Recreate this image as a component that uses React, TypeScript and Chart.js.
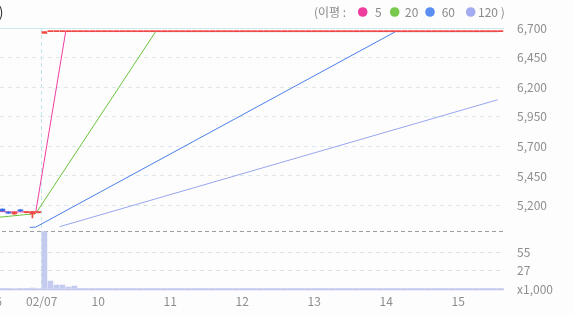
import React, { useEffect, useRef } from "react";
import { Chart, registerables } from "chart.js";

Chart.register(...registerables);

const FONT = "'Noto Sans CJK KR', 'Noto Sans', sans-serif";

// 30-minute bars; the first entry of each per-bar array is bar -1
const FIRST_BAR = -1;

// OHLC up to and including the gap-up bar; later bars are locked (O = H = L = C)
const opens = [5150, 5170, 5145, 5130, 5165, 5140, 5130, 5140, 6655];
const highs = [5165, 5172, 5148, 5148, 5168, 5148, 5152, 5148, 6670];
const lows = [5145, 5152, 5132, 5125, 5150, 5138, 5095, 5138, 6655];
const closes = [
  5160, 5155, 5135, 5145, 5155, 5145, 5150, 5145, 6670,
  6670, 6670, 6670, 6670, 6670, 6670, 6670, 6670, 6670, 6670, 6670, 6670, 6670, 6670, 6670, 6670, 6670, 6670, 6670,
  6670, 6670, 6670, 6670, 6670, 6670, 6670, 6670, 6670, 6670, 6670, 6670, 6670, 6670, 6670, 6670, 6670, 6670, 6670,
  6670, 6670, 6670, 6670, 6670, 6670, 6670, 6670, 6670, 6670, 6670, 6670, 6670, 6670, 6670, 6670, 6670, 6670, 6670,
  6670, 6670, 6670, 6670, 6670, 6670, 6670, 6670, 6670, 6670, 6670, 6670, 6670, 6670, 6670, 6670, 6670, 6670, 6670,
];

// volume per bar, thousands of shares
const volumes = [
  0.6, 0.9, 0.5, 0.7, 0.4, 0.6, 1.2, 0.8, 85.5, 12, 6, 6, 3, 4.5,
  0.6, 0.5, 0.4, 0.6, 0.5, 0.4, 0.5, 0.6, 0.4, 0.5, 0.5, 0.4, 0.6, 0.5, 0.4, 0.5, 0.6, 0.4,
  0.5, 0.5, 0.4, 0.6, 0.5, 0.4, 0.5, 0.6, 0.4, 0.5, 0.5, 0.4, 0.6, 0.5, 0.4, 0.5, 0.6, 0.4,
  0.5, 0.5, 0.4, 0.6, 0.5, 0.4, 0.5, 0.6, 0.4, 0.5, 0.5, 0.4, 0.6, 0.5, 0.4, 0.5, 0.6, 0.4,
  0.5, 0.5, 0.4, 0.6, 0.5, 0.4, 0.5, 0.6, 0.4, 0.5, 0.5, 0.4, 0.6, 0.5, 0.4, 0.5, 0.6,
];

// moving averages as [bar, value] vertices
const ma5 = [[-1, 5150], [0, 5150], [2, 5146], [4, 5147], [6, 5144], [11, 6670], [83, 6670]];
const ma20 = [[-1, 5098], [0, 5102], [2, 5112], [4, 5122], [6, 5132], [26, 6670], [83, 6670]];
const ma60 = [[5, 5016], [6, 5018], [66, 6670], [83, 6670]];
const ma120 = [[10, 5022], [83, 6094]];

const priceTicks = [5200, 5450, 5700, 5950, 6200, 6450, 6700];
const volumeTicks = [0, 27, 55];
const volumeTickLabels = ["x1,000", "27", "55"];
const dayTickPos = [-0.2, 7, 16.43, 28.43, 40.43, 52.43, 64.43, 76.43];
const dayTickLabels = ["6", "02/07", "10", "11", "12", "13", "14", "15"];

const maLabels = ["5", "20", "60", "120"];
const maColors = ["#f03ca0", "#6cc23c", "#4a7fe8", "#98a6ee"];
const maLegendDots = ["#ee3d9f", "#79c94c", "#5a8ef0", "#a3acf0"];
const maPoints = [ma5, ma20, ma60, ma120];

const PRICE_MIN = 4988;
const PRICE_MAX = 6700;
const VOL_MAX = 87;
const X_MIN = -6.617;
const X_MAX = 84.05;
const BAR_SHIFT = 0.45;
const SHIFT = 40; // canvas is shifted left so the first bars sit at the window edge
const W = 573 + SHIFT;
const H = 315;

const UP = "#f04a46";
const DOWN = "#3a6ee6";

const paneLines = {
  id: "paneLines",
  beforeDatasetsDraw(chart: any) {
    const { ctx, chartArea: a, scales } = chart;
    const y = scales.y;
    const yv = scales.yv;
    const hline = (py: number, color: string, width: number, dash: number[]) => {
      ctx.save();
      ctx.strokeStyle = color;
      ctx.lineWidth = width;
      ctx.setLineDash(dash);
      ctx.beginPath();
      const yy = Math.round(py) + 0.5;
      ctx.moveTo(a.left, yy);
      ctx.lineTo(a.right, yy);
      ctx.stroke();
      ctx.restore();
    };
    hline(y.getPixelForValue(y.max), "#cde9ef", 1, []);
    hline(y.getPixelForValue(y.min), "#9c9c9c", 1, [4, 3]);
    hline(yv.getPixelForValue(0), "#c4c5ee", 1.5, []);
  },
  afterDraw(chart: any) {
    const { ctx } = chart;
    ctx.save();
    ctx.textBaseline = "middle";
    // tail of the title, cut by the left edge
    ctx.font = `14px ${FONT}`;
    ctx.fillStyle = "#333";
    ctx.textAlign = "right";
    ctx.fillText(")", SHIFT + 3.5, 12);

    // moving-average legend
    ctx.font = `12px ${FONT}`;
    ctx.fillStyle = "#8a8a8a";
    ctx.textAlign = "left";
    ctx.fillText("(이평 :", SHIFT + 314, 12);
    const dotX = [362.7, 394.7, 430, 470.7];
    const textX = [375, 405, 441.7, 478];
    maLabels.forEach((lab, i) => {
      ctx.beginPath();
      ctx.fillStyle = maLegendDots[i];
      ctx.arc(SHIFT + dotX[i], 12, 4.8, 0, Math.PI * 2);
      ctx.fill();
      ctx.fillStyle = "#8a8a8a";
      ctx.fillText(i === maLabels.length - 1 ? `${lab} )` : lab, SHIFT + textX[i], 12);
    });
    ctx.restore();
  },
};

export default function App() {
  const ref = useRef<HTMLCanvasElement | null>(null);

  useEffect(() => {
    if (!ref.current) return;

    const bars = closes.map((c, k) => ({
      x: FIRST_BAR + k,
      o: opens[k] ?? c,
      h: highs[k] ?? c,
      l: lows[k] ?? c,
      c,
    }));
    const barColor = bars.map((b) => (b.c >= b.o ? UP : DOWN));
    const wickBars = bars.filter((b) => b.h > Math.max(b.o, b.c) || b.l < Math.min(b.o, b.c));

    const axisFont = { family: FONT, size: 12 };

    const chart = new Chart(ref.current, {
      type: "bar",
      data: {
        datasets: [
          ...maPoints.map((pts, i) => ({
            type: "line" as const,
            label: maLabels[i],
            data: pts.map(([x, y]) => ({ x, y })),
            xAxisID: "x",
            yAxisID: "y",
            borderColor: maColors[i],
            borderWidth: 1,
            pointRadius: 0,
            tension: 0,
            fill: false,
            order: 2 + i,
          })),
          {
            type: "bar" as const,
            label: "wick",
            data: wickBars.map((b) => ({ x: b.x, y: [b.l, b.h] })),
            xAxisID: "xb",
            yAxisID: "y",
            backgroundColor: wickBars.map((b) => (b.c >= b.o ? UP : DOWN)),
            barThickness: 1,
            grouped: false,
            order: 1,
          },
          {
            type: "bar" as const,
            label: "candle",
            data: bars.map((b) => ({ x: b.x, y: [Math.min(b.o, b.c), Math.max(b.o, b.c)] })),
            xAxisID: "xb",
            yAxisID: "y",
            backgroundColor: barColor,
            barThickness: 5,
            minBarLength: 1,
            grouped: false,
            order: 0,
          },
          {
            type: "bar" as const,
            label: "volume",
            data: volumes.map((v, k) => ({ x: FIRST_BAR + k, y: v })),
            xAxisID: "xb",
            yAxisID: "yv",
            backgroundColor: "#c3ccef",
            barThickness: 5,
            grouped: false,
            order: 6,
          },
        ],
      } as any,
      options: {
        animation: false,
        responsive: false,
        devicePixelRatio: 1,
        layout: { padding: { top: 28, left: 0, right: 0, bottom: 0 } },
        plugins: { legend: { display: false }, tooltip: { enabled: false } },
        scales: {
          x: {
            type: "linear",
            position: "bottom",
            offset: false,
            min: X_MIN,
            max: X_MAX,
            afterBuildTicks: (s: any) => {
              s.ticks = dayTickPos.map((v) => ({ value: v }));
            },
            afterFit: (s: any) => {
              s.height = 26;
            },
            ticks: {
              autoSkip: false,
              maxRotation: 0,
              padding: 5,
              color: "#8e8e8e",
              font: axisFont,
              callback: (_v: any, i: number) => dayTickLabels[i],
            },
            grid: {
              offset: false,
              drawTicks: false,
              color: (c: any) => (c.index === 1 ? "#bfe5ea" : "rgba(0,0,0,0)"),
            },
            border: { display: false, dash: [4, 3] },
          },
          xb: {
            type: "linear",
            display: false,
            offset: false,
            min: X_MIN - BAR_SHIFT,
            max: X_MAX - BAR_SHIFT,
          },
          y: {
            type: "linear",
            position: "right",
            stack: "panes",
            stackWeight: 3.475,
            min: PRICE_MIN,
            max: PRICE_MAX,
            afterBuildTicks: (s: any) => {
              s.ticks = priceTicks.map((v) => ({ value: v }));
            },
            afterFit: (s: any) => {
              s.width = 69;
            },
            ticks: {
              autoSkip: false,
              padding: 13,
              color: "#8e8e8e",
              font: axisFont,
              callback: (v: any) => Number(v).toLocaleString("en-US"),
            },
            grid: {
              drawTicks: false,
              color: (c: any) => (c.tick && c.tick.value === PRICE_MAX ? "rgba(0,0,0,0)" : "#dde6ea"),
            },
            border: { display: false, dash: [4, 4] },
          },
          yv: {
            type: "linear",
            position: "right",
            stack: "panes",
            stackWeight: 1,
            min: 0,
            max: VOL_MAX,
            afterBuildTicks: (s: any) => {
              s.ticks = volumeTicks.map((v) => ({ value: v }));
            },
            afterFit: (s: any) => {
              s.width = 69;
            },
            ticks: {
              autoSkip: false,
              padding: 13,
              color: "#8e8e8e",
              font: axisFont,
              callback: (_v: any, i: number) => volumeTickLabels[i],
            },
            grid: {
              drawTicks: false,
              color: (c: any) => (c.tick && c.tick.value === 0 ? "rgba(0,0,0,0)" : "#dde3e8"),
            },
            border: { display: false, dash: [4, 4] },
          },
        },
      } as any,
      plugins: [paneLines],
    });

    return () => chart.destroy();
  }, []);

  return (
    <div
      style={{
        position: "absolute",
        left: 0,
        top: 0,
        width: 573,
        height: 315,
        overflow: "hidden",
        background: "#fdfdfd",
      }}
    >
      <canvas
        ref={ref}
        width={W}
        height={H}
        style={{ position: "absolute", left: -SHIFT, top: 0, width: W, height: H }}
      />
    </div>
  );
}
